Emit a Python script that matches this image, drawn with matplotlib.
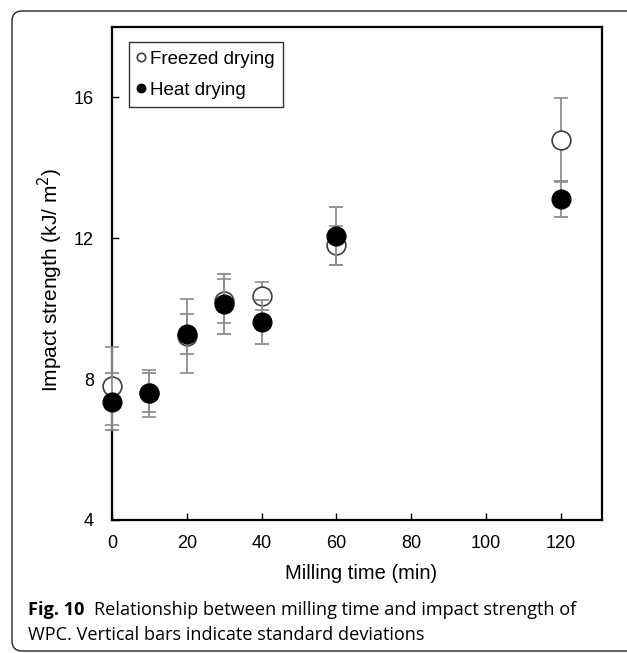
import matplotlib
matplotlib.use("Agg")
import matplotlib.pyplot as plt
from matplotlib.patches import FancyBboxPatch

plt.rcParams['font.family'] = ['Liberation Sans', 'DejaVu Sans']

# milling time (min)
milling_time = [0, 10, 20, 30, 40, 60, 120]

# impact strength (kJ/m2) and standard deviations
freezed_mean = [7.80, 7.60, 9.23, 10.21, 10.36, 11.80, 14.79]
freezed_sd = [1.10, 0.67, 1.05, 0.62, 0.39, 0.55, 1.20]
heat_mean = [7.36, 7.62, 9.28, 10.13, 9.63, 12.06, 13.12]
heat_sd = [0.80, 0.55, 0.57, 0.85, 0.63, 0.83, 0.52]

x_ticks = [0, 20, 40, 60, 80, 100, 120]
y_ticks = [4, 8, 12, 16]

fig = plt.figure(figsize=(6.27, 6.53), dpi=100)
ax = fig.add_axes([0.1786, 0.2037, 0.7814, 0.755])

err_kw = dict(ecolor='#8c8c8c', elinewidth=1.3, capsize=5, capthick=1.3, ls='none')
c1 = ax.errorbar(milling_time, freezed_mean, yerr=freezed_sd, fmt='o', ms=13.5,
                 mfc='white', mec='#404040', mew=1.2, label='Freezed drying', zorder=3, **err_kw)
c2 = ax.errorbar(milling_time, heat_mean, yerr=heat_sd, fmt='o', ms=13.5,
                 mfc='black', mec='black', label='Heat drying', zorder=4, **err_kw)
for c in (c1, c2):
    for a in c.get_children():
        a.set_clip_on(False)

ax.set_xlim(0, 131)
ax.set_ylim(4, 18)
ax.set_xticks(x_ticks)
ax.set_yticks(y_ticks)
ax.tick_params(direction='in', length=5, width=1, labelsize=13)
ax.tick_params(axis='x', pad=11)
ax.tick_params(axis='y', pad=13)
for s in ax.spines.values():
    s.set_linewidth(1.6)

ax.set_xlabel('Milling time (min)', fontsize=14.5, va='top')
ax.set_ylabel('Impact strength (kJ/ m$^2$)', fontsize=15)
ax.xaxis.set_label_coords(0.508, -0.089)
ax.yaxis.set_label_coords(-0.096, 0.487)

h, l = ax.get_legend_handles_labels()
h = [hh[0] for hh in h]
leg = ax.legend(h, l, loc='upper left', bbox_to_anchor=(0.0347, 0.9696), fontsize=13.5,
                markerscale=0.45, handlelength=0.4, handletextpad=0.25,
                frameon=True, fancybox=False, edgecolor='black', borderpad=0.45,
                borderaxespad=0, labelspacing=0.75)
leg.get_frame().set_linewidth(1.0)

# caption
fig.canvas.draw()
cap_font = ['Open Sans', 'DejaVu Sans']
t1 = fig.text(28 / 627, 1 - 610 / 653, 'Fig. 10', fontsize=13.1, fontweight='bold',
              family=cap_font, va='center', ha='left')
r = fig.canvas.get_renderer()
bb = t1.get_window_extent(r)
fig.text((bb.x1 + 10) / 627, 1 - 610 / 653,
         'Relationship between milling time and impact strength of',
         fontsize=13.1, family=cap_font, va='center', ha='left')
fig.text(28 / 627, 1 - 635 / 653,
         'WPC. Vertical bars indicate standard deviations',
         fontsize=13.1, family=cap_font, va='center', ha='left')

# outer frame
frame = FancyBboxPatch((0.12, 0.02), 7.0, 6.40, boxstyle='round,pad=0,rounding_size=0.1',
                       transform=fig.dpi_scale_trans, fill=False, lw=1.0,
                       edgecolor='#222222', clip_on=False)
fig.patches.append(frame)

fig.savefig('out.png', dpi=100)
